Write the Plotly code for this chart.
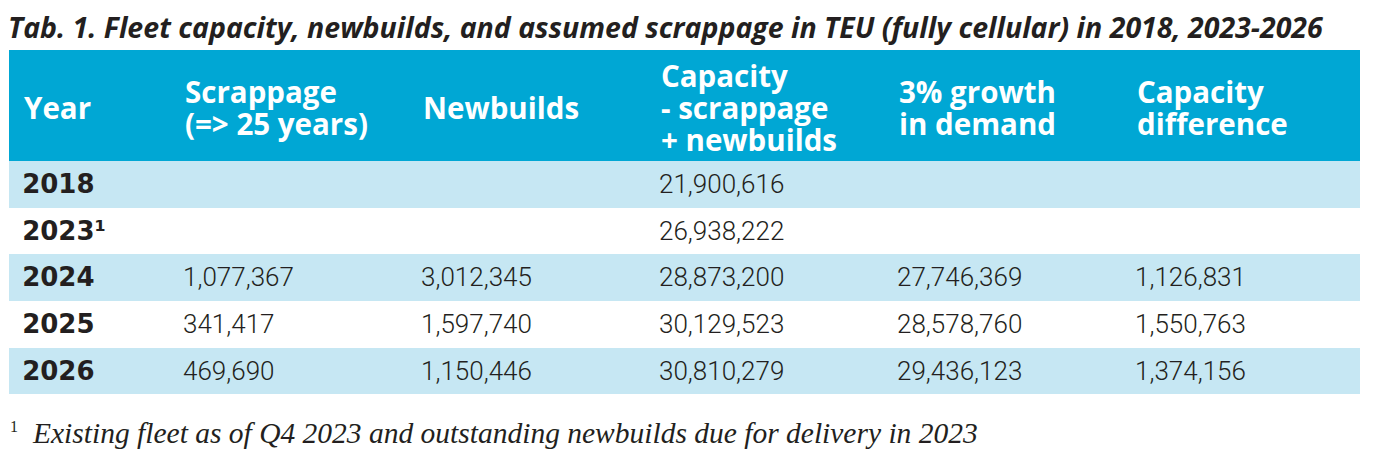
import plotly.graph_objects as go

# Daten der Tabelle
jahre = ["2018", "2023¹", "2024", "2025", "2026"]
scrappage = ["", "", "1,077,367", "341,417", "469,690"]
newbuilds = ["", "", "3,012,345", "1,597,740", "1,150,446"]
kapazitaet = ["21,900,616", "26,938,222", "28,873,200", "30,129,523", "30,810,279"]
wachstum = ["", "", "27,746,369", "28,578,760", "29,436,123"]
differenz = ["", "", "1,126,831", "1,550,763", "1,374,156"]

kopfzeilen = [
    ["Year"],
    ["Scrappage", "(=> 25 years)"],
    ["Newbuilds"],
    ["Capacity", "- scrappage", "+ newbuilds"],
    ["3% growth", "in demand"],
    ["Capacity", "difference"],
]

titel = "Tab. 1. Fleet capacity, newbuilds, and assumed scrappage in TEU (fully cellular) in 2018, 2023-2026"
fussnote = "Existing fleet as of Q4 2023 and outstanding newbuilds due for delivery in 2023"

# Seite hat 8px Rand -> Figur etwas kleiner, Koordinaten in Referenz-Pixeln
W, H = 1366, 454
OFF = 8


def px(x):
    return (x - OFF) / W


def py(y):
    return 1 - (y - OFF) / H


blau = "#00a7d4"
hellblau = "#c6e7f3"
dunkel = "#231f20"

zeilenfarben = [hellblau if i % 2 == 0 else "white" for i in range(len(jahre))]
breiten = [166, 238, 238, 238, 238, 233]


def html(werte, vorne=""):
    # span erzwingt die HTML-Textdarstellung (etwas tiefer in der Zelle)
    return [f"<span>{vorne}{w}</span>" if w else "" for w in werte]


fig = go.Figure(go.Table(
    columnwidth=breiten,
    domain=dict(x=[px(9), px(1360)], y=[0, py(50)]),
    header=dict(
        values=[""] * 6,
        fill_color=blau,
        line=dict(color=blau, width=0),
        height=111,
    ),
    cells=dict(
        values=[html(jahre, "\u2009"), html(scrappage), html(newbuilds),
                html(kapazitaet), html(wachstum), html(differenz)],
        fill_color=[zeilenfarben] * 6,
        line=dict(color=[zeilenfarben] * 6, width=0),
        align="left",
        height=46.7,
        font=dict(family=["DejaVu Sans"] + ["Roboto"] * 5, size=26, color=dunkel,
                  weight=[700, 300, 300, 300, 300, 300]),
    ),
))

# Kopf: enger Zeilenabstand (32px) bei grosser Schrift -> span mit eigener Groesse
for zeilen, xpos in zip(kopfzeilen, [22, 183, 421, 659, 897, 1135]):
    txt = "<br>".join(f'<span style="font-size:29.5px">{z}</span>' for z in zeilen)
    fig.add_annotation(
        text=txt, x=px(xpos), y=py(107),
        xref="paper", yref="paper", xanchor="left", yanchor="middle",
        align="left", showarrow=False,
        font=dict(family="Open Sans", size=24.6, color="white", weight=700),
    )

fig.add_annotation(
    text=titel, x=px(6), y=py(27), xref="paper", yref="paper",
    xanchor="left", yanchor="middle", showarrow=False,
    font=dict(family="Open Sans", size=28.5, color=dunkel, weight=700, style="italic"),
)
fig.add_annotation(
    text="1", x=px(8), y=py(426), xref="paper", yref="paper",
    xanchor="left", yanchor="middle", showarrow=False,
    font=dict(family="Liberation Serif", size=16, color=dunkel),
)
fig.add_annotation(
    text=fussnote, x=px(30), y=py(433), xref="paper", yref="paper",
    xanchor="left", yanchor="middle", showarrow=False,
    font=dict(family="Liberation Serif", size=29.5, color=dunkel, style="italic"),
)

fig.update_layout(
    width=W, height=H,
    margin=dict(l=0, r=0, t=0, b=0),
    paper_bgcolor="white",
    plot_bgcolor="white",
)

fig.write_html("out.html")
